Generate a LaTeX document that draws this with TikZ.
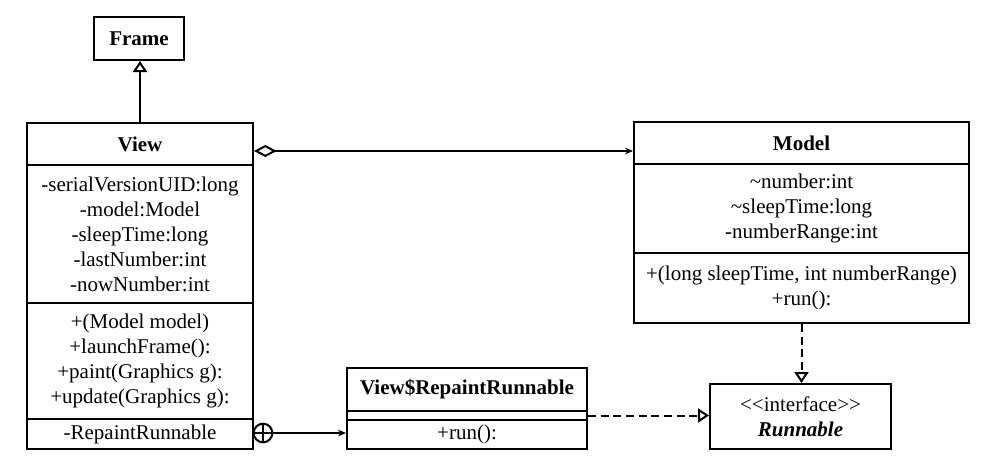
\documentclass[tikz,border=0pt]{standalone}
\usepackage{fontspec}
\setmainfont{Liberation Serif}
\usetikzlibrary{arrows.meta}
\begin{document}
\begin{tikzpicture}[x=0.75pt,y=-0.75pt,
  every node/.style={font=\fontsize{15.75}{18.75}\selectfont},
  comp/.style 2 args={draw, line width=1.5pt, inner sep=0pt, align=center, anchor=north west,
    minimum width={#1*0.75pt}, minimum height={#2*0.75pt}},
  edge/.style={line width=1.5pt},
  dsh/.style={dash pattern=on 6pt off 3.5pt},
  opentri/.style={-{Triangle[open,length=8.25pt,width=10.5pt]}},
  smallhead/.tip={Stealth[length=6pt,width=5pt]},
  nestmark/.style={circle, draw, line width=1.5pt, minimum size=14pt, inner sep=0pt,
    path picture={\draw[line width=1.5pt] (path picture bounding box.north) -- (path picture bounding box.south)
      (path picture bounding box.west) -- (path picture bounding box.east);}}
]
\useasboundingbox (0,0) rectangle (995,465);
% Frame
\node[comp={90}{43}] (frame) at (93,16) {\textbf{Frame}};
% View
\node[comp={226}{42}] (vh) at (26,122) {\textbf{View}};
\node[comp={226}{138}] (va) at (26,164) {-serialVersionUID:long\\-model:Model\\-sleepTime:long\\-lastNumber:int\\-nowNumber:int};
\node[comp={226}{116}] (vm) at (26,302) {+(Model model)\\+launchFrame():\\+paint(Graphics g):\\+update(Graphics g):};
\node[comp={226}{30}] (vi) at (26,418) {-RepaintRunnable};
% Model
\node[comp={335}{42}] (mh) at (633,121) {\textbf{Model}};
\node[comp={335}{89}] (ma) at (633,163) {\textasciitilde number:int\\\textasciitilde sleepTime:long\\-numberRange:int};
\node[comp={335}{70}] (mm) at (633,252) {+(long sleepTime, int numberRange)\\+run():};
% Runnable
\node[comp={181}{65}] (run) at (709,383) {<\kern0pt<interface>\kern0pt>\\\textbf{\textit{Runnable}}};
% View$RepaintRunnable
\node[comp={240}{43}] (rh) at (346,367) {\textbf{View\$RepaintRunnable}};
\node[comp={240}{9}] (ra) at (346,410) {};
\node[comp={240}{29}] (rm) at (346,419) {+run():};
% nesting symbol
\node[nestmark] (cp) at (263,433) {};
% connectors
\draw[edge, opentri] (vh.north) -- (vh.north |- frame.south);
\draw[edge, {Diamond[open,length=17pt,width=9pt]}-smallhead] ([yshift=-5.25pt]vh.east) -- ([yshift=-5.25pt]vh.east -| mh.west);
\draw[edge, -smallhead] (cp.east) -- (cp.east -| rm.west);
\draw[edge, dsh, opentri] (ra.east) -- (ra.east -| run.west);
\draw[edge, dsh, opentri] (mm.south) -- (mm.south |- run.north);
\end{tikzpicture}
\end{document}
